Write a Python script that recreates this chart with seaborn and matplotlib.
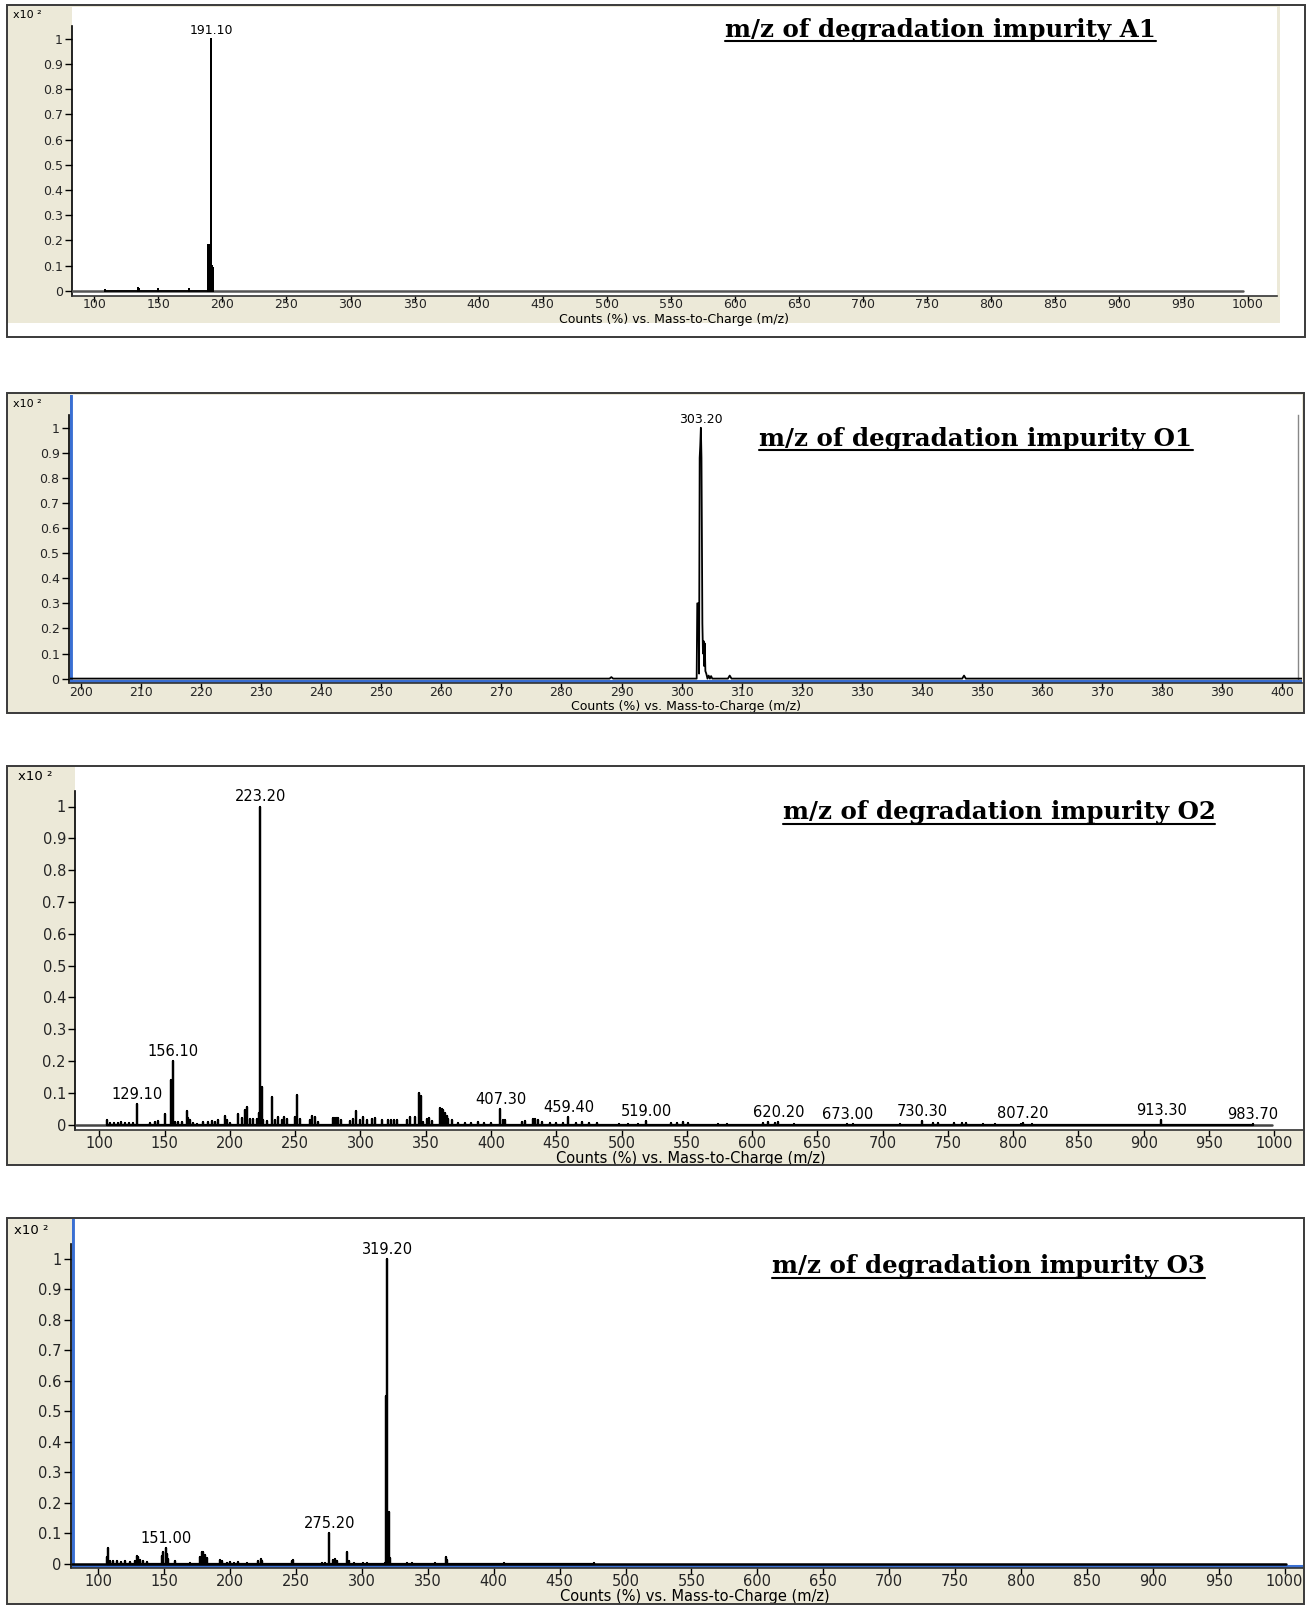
import numpy as np
import matplotlib
matplotlib.use('Agg')
import matplotlib.pyplot as plt
import seaborn as sns
from matplotlib.patches import Rectangle
from matplotlib.lines import Line2D

# Spectres de masse (m/z) des impuretés de dégradation
a1_mz = [108.4, 134.0, 135.0, 150.0, 174.2, 189.2, 189.6, 190.0, 190.4, 190.8, 191.1, 191.5, 192.0, 192.5]
a1_int = [0.004, 0.010, 0.005, 0.007, 0.005, 0.18, 0.18, 0.18, 0.18, 0.05, 1.00, 0.10, 0.10, 0.09]
a1_trace = [83, 996]
a1_labels = [191.1]

o1_mz = [198.2, 288.0, 288.3, 288.6, 302.5, 302.6, 302.8, 302.9, 303.0, 303.1, 303.2, 303.3,
         303.45, 303.55, 303.65, 303.75, 303.85, 303.95, 304.1, 304.3, 304.5, 304.7, 304.9,
         305.1, 307.7, 308.0, 308.3, 346.7, 347.0, 347.3, 403.2]
o1_int = [0, 0, 0.006, 0, 0, 0.30, 0.30, 0.02, 0.88, 0.93, 1.00, 0.88,
          0.22, 0.10, 0.15, 0.05, 0.14, 0.03, 0.02, 0.0, 0.012, 0, 0.01,
          0, 0, 0.012, 0, 0, 0.012, 0, 0]
o1_labels = [303.2]

o2_mz = [105.6, 108, 111, 114, 117, 120, 123, 126, 129.1, 138.8, 142.6, 145.2, 150.3, 155.3, 156.1,
         158.0, 160.5, 163.0, 166.9, 168.2, 169.4, 172, 175, 179.7, 183.5, 186.0, 188.6, 191.0,
         196.3, 197.5, 200.0, 206.5, 209.0, 211.6, 212.9, 215.4, 218.0, 220.5, 222.6, 223.2,
         224.3, 225.6, 228.2, 232.5, 234.6, 237.1, 239.7, 241.5, 243.5, 249.9, 251.5, 253.7,
         261.4, 262.6, 265.2, 267.8, 278.7, 279.8, 281.0, 282.0, 283.1, 284.9, 292.0, 294.6,
         296.3, 299.7, 302.3, 304.8, 308.6, 311.2, 316.3, 321.4, 323.5, 325.6, 327.8, 335.4,
         337.9, 341.8, 345.1, 346.4, 348.2, 350.7, 352.8, 354.6, 361.0, 362.2, 363.5, 364.8,
         366.0, 367.3, 369.9, 375, 380, 385, 390, 395, 400, 407.3, 409.5, 410.7, 423.5, 426.0,
         432.4, 433.7, 436.3, 438.8, 445, 450, 455, 459.4, 465, 470, 475, 481, 498, 505, 512.7,
         519.0, 538.0, 542.7, 547.0, 550.7, 574, 581, 608.5, 612.0, 617.6, 620.2, 632.0, 673.0,
         677.0, 713.5, 730.3, 738.8, 742.4, 755.0, 760.5, 764.0, 776.8, 785.8, 805.7, 807.2,
         814.8, 913.3, 983.7]
o2_int = [0.016, 0.005, 0.007, 0.006, 0.008, 0.006, 0.007, 0.005, 0.066, 0.007, 0.010, 0.012, 0.035,
          0.14, 0.20, 0.010, 0.010, 0.008, 0.042, 0.020, 0.016, 0.005, 0.004, 0.010, 0.010, 0.012,
          0.010, 0.015, 0.028, 0.016, 0.007, 0.035, 0.020, 0.047, 0.055, 0.018, 0.018, 0.018,
          0.037, 1.00, 0.12, 0.016, 0.012, 0.087, 0.016, 0.024, 0.016, 0.024, 0.018, 0.023, 0.094,
          0.018, 0.016, 0.028, 0.026, 0.010, 0.020, 0.020, 0.020, 0.020, 0.020, 0.014, 0.012,
          0.018, 0.044, 0.016, 0.026, 0.016, 0.018, 0.020, 0.016, 0.016, 0.016, 0.016, 0.016,
          0.016, 0.024, 0.024, 0.10, 0.090, 0.010, 0.018, 0.021, 0.012, 0.052, 0.050, 0.045,
          0.037, 0.028, 0.018, 0.014, 0.005, 0.006, 0.007, 0.008, 0.005, 0.006, 0.050, 0.016,
          0.016, 0.010, 0.011, 0.018, 0.018, 0.014, 0.010, 0.006, 0.007, 0.005, 0.024, 0.006,
          0.008, 0.006, 0.005, 0.003, 0.003, 0.004, 0.013, 0.007, 0.005, 0.009, 0.007, 0.002,
          0.002, 0.007, 0.009, 0.005, 0.008, 0.004, 0.003, 0.003, 0.003, 0.013, 0.007, 0.005,
          0.005, 0.007, 0.005, 0.003, 0.004, 0.004, 0.006, 0.003, 0.015, 0.002]
o2_trace = [82, 998]
o2_labels = [129.1, 156.1, 223.2, 407.3, 459.4, 519.0, 620.2, 673.0, 730.3, 807.2, 913.3, 983.7]

o3_mz = [106.3, 107.6, 108.9, 111.4, 114, 117, 120, 124, 127.5, 129.1, 130.4, 131.6, 134.2, 136.7,
         148.0, 149.3, 151.0, 151.9, 153.1, 158.2, 169.6, 177.1, 178.4, 179.7, 180.9, 182.2,
         192.3, 193.6, 197.4, 200, 203, 206, 212.6, 221.4, 223.2, 224.0, 246.8, 248.0, 269.5,
         272.0, 275.2, 278.4, 279.6, 280.9, 288.5, 289.8, 293.6, 301.0, 303.6, 317.5, 318.5,
         319.2, 320.2, 321.0, 334.0, 337.8, 355.5, 363.5, 364.5, 408.0, 476.0]
o3_int = [0.024, 0.051, 0.008, 0.008, 0.008, 0.007, 0.008, 0.007, 0.008, 0.026, 0.022, 0.013, 0.008,
          0.005, 0.026, 0.040, 0.051, 0.033, 0.015, 0.009, 0.004, 0.024, 0.040, 0.040, 0.030,
          0.018, 0.013, 0.008, 0.004, 0.005, 0.004, 0.005, 0.004, 0.008, 0.016, 0.010, 0.011,
          0.013, 0.004, 0.004, 0.10, 0.013, 0.016, 0.008, 0.040, 0.010, 0.004, 0.003, 0.003,
          0.004, 0.55, 1.00, 0.17, 0.02, 0.004, 0.004, 0.004, 0.021, 0.013, 0.003, 0.003]
o3_trace = [80, 1001]
o3_labels = [151.0, 275.2, 319.2]

ytick_vals = [0, 0.1, 0.2, 0.3, 0.4, 0.5, 0.6, 0.7, 0.8, 0.9, 1]
ytick_text = ['0', '0.1', '0.2', '0.3', '0.4', '0.5', '0.6', '0.7', '0.8', '0.9', '1']
xlabel_txt = 'Counts (%) vs. Mass-to-Charge (m/z)'

W, H = 1307, 1605
BEIGE = '#ece9d8'
BLUE = '#3a6fd2'

sns.set_style('white')
plt.rcParams['font.family'] = ['DejaVu Sans']

fig = plt.figure(figsize=(W / 100, H / 100), dpi=100)


def fx(x):
    return x / W


def fy(y):
    return 1 - y / H


def box(x0, y0, x1, y1, **kw):
    fig.patches.append(Rectangle((fx(x0), fy(y1)), fx(x1 - x0), (y1 - y0) / H,
                                 transform=fig.transFigure, **kw))


def sticks(mz, inten):
    order = np.argsort(mz)
    mz = np.asarray(mz)[order]
    h = np.asarray(inten)[order]
    x = np.repeat(mz, 3)
    y = np.column_stack([np.zeros_like(h), h, np.zeros_like(h)]).ravel()
    return x, y


panels = [
    dict(frame=(7, 5, 1305, 337), beige=(7, 5, 1280, 323), ax=(72, 7, 1277, 296),
         y0=290.7, y1=38.9, xlim=(82.7, 1022.9), xticks=np.arange(100, 1001, 50), fs=9, xpad=-2.2,
         mz=a1_mz, inten=a1_int, trace=a1_trace, labels=a1_labels, blue=False,
         title='m/z of degradation impurity A1', tcx=940.5, tby=37.5, uly=41,
         xl=(674, 319), xe=(13, 15.5), lw=1.3, base='#555555'),
    dict(frame=(7, 393, 1304, 713), beige=(7, 393, 1304, 713), ax=(70, 395, 1302, 683),
         y0=678.6, y1=427.8, xlim=(198.2, 403.25), xticks=np.arange(200, 401, 10), fs=9, xpad=-2.2,
         mz=o1_mz, inten=o1_int, trace=None, labels=o1_labels, blue=True,
         title='m/z of degradation impurity O1', tcx=976, tby=446, uly=450,
         xl=(686, 706.5), xe=(13, 404), lw=1.3, base='black'),
    dict(frame=(7, 766, 1304, 1165), beige=(7, 766, 1304, 1165), ax=(75, 767, 1303, 1130),
         y0=1124.8, y1=806.5, xlim=(81.4, 1022), xticks=np.arange(100, 1001, 50), fs=10.5, xpad=0.5,
         mz=o2_mz, inten=o2_int, trace=o2_trace, labels=o2_labels, blue=False,
         title='m/z of degradation impurity O2', tcx=999, tby=819.5, uly=824,
         xl=(691, 1159), xe=(18, 777), lw=1.6, base='#444444'),
    dict(frame=(7, 1218, 1304, 1604), beige=(7, 1218, 1304, 1604), ax=(72, 1219, 1303, 1568),
         y0=1563.9, y1=1258.9, xlim=(80.0, 1014), xticks=np.arange(100, 1001, 50), fs=10.5, xpad=0.5,
         mz=o3_mz, inten=o3_int, trace=o3_trace, labels=o3_labels, blue=True,
         title='m/z of degradation impurity O3', tcx=988.5, tby=1273.5, uly=1278,
         xl=(695, 1597), xe=(14, 1230), lw=1.6, base='black'),
]

titles = []
for p in panels:
    box(*p['beige'], facecolor=BEIGE, edgecolor='none', zorder=-10)
    box(*p['frame'], facecolor='none', edgecolor='#3a3a3a', lw=1.4, zorder=10)

    x0, ytop, x1, ybot = p['ax']
    ax = fig.add_axes([fx(x0), fy(ybot), (x1 - x0) / W, (ybot - ytop) / H])
    ax.set_facecolor('white')
    unit = p['y0'] - p['y1']
    ylo = -(ybot - p['y0']) / unit
    yhi = 1 + (p['y1'] - ytop) / unit
    ax.set_xlim(*p['xlim'])
    ax.set_ylim(ylo, yhi)

    # trace
    if p['trace'] is not None:
        sns.lineplot(x=p['trace'], y=[0, 0], ax=ax, color=p['base'], lw=1.8,
                     estimator=None, sort=False, zorder=3)
        xs, ys = sticks(p['mz'], p['inten'])
    else:
        xs, ys = np.asarray(p['mz']), np.asarray(p['inten'])
    sns.lineplot(x=xs, y=ys, ax=ax, color='black', lw=p['lw'],
                 estimator=None, sort=False, zorder=4)

    if p['blue']:
        ax.axvline(p['xlim'][0], color=BLUE, lw=3.5, zorder=2)
        ax.axhline(-2.2 / unit, color=BLUE, lw=2.2, zorder=2)

    # labels of peaks
    mz_arr = np.asarray(p['mz'])
    in_arr = np.asarray(p['inten'])
    for v in p['labels']:
        h = in_arr[np.argmin(np.abs(mz_arr - v))]
        ax.annotate(f'{v:.2f}', xy=(v, h), xytext=(0, 1.5), textcoords='offset points',
                    ha='center', va='bottom', fontsize=p['fs'], color='black')

    for s in ['top', 'right']:
        ax.spines[s].set_visible(False)
    if p['title'].endswith('O1'):
        ax.spines['right'].set_visible(True)
        ax.spines['right'].set_position(('data', 402.6))
        ax.spines['right'].set_bounds(0, 1.05)
        ax.spines['right'].set_color('#888888')
        ax.spines['right'].set_linewidth(1)
    ax.spines['left'].set_bounds(ylo, 1.05)
    ax.spines['left'].set_color('black')
    ax.spines['left'].set_linewidth(1.2)
    if p['blue']:
        ax.spines['left'].set_position(('outward', 1))
    ax.spines['bottom'].set_color('#333333')
    ax.spines['bottom'].set_linewidth(1.2)

    ax.set_yticks(ytick_vals, ytick_text)
    ax.set_xticks(p['xticks'], [str(t) for t in p['xticks']])
    ax.tick_params(axis='both', direction='out', length=4, width=1, color='black',
                   labelsize=p['fs'], left=True, bottom=True)
    ax.tick_params(axis='x', pad=p['xpad'])
    ax.tick_params(axis='y', length=5, pad=1.5)
    ax.set_xlabel('')
    ax.set_ylabel('')
    ax.grid(False)

    fig.text(fx(p['xl'][0]), fy(p['xl'][1]), xlabel_txt, ha='center', va='center',
             fontsize=p['fs'], color='black')
    fig.text(fx(p['xe'][0]), fy(p['xe'][1]), 'x10 ²', ha='left', va='center',
             fontsize=p['fs'] - 1, color='black')

    t = fig.text(fx(p['tcx']), fy(p['tby']), p['title'], ha='center', va='baseline',
                 fontsize=16, fontweight='bold', family='DejaVu Serif', color='black')
    titles.append((t, p))

# ajuster la taille du titre a la largeur (~430 px) et souligner
fig.canvas.draw()
renderer = fig.canvas.get_renderer()
w = titles[0][0].get_window_extent(renderer).width
fsz = 16 * 430 / w
for t, p in titles:
    t.set_fontsize(fsz)
fig.canvas.draw()
for t, p in titles:
    bb = t.get_window_extent(renderer)
    fig.add_artist(Line2D([bb.x0 / W, bb.x1 / W], [fy(p['uly']), fy(p['uly'])],
                          transform=fig.transFigure, color='black', lw=1.5))

fig.savefig('out.png', dpi=100, facecolor='white')
